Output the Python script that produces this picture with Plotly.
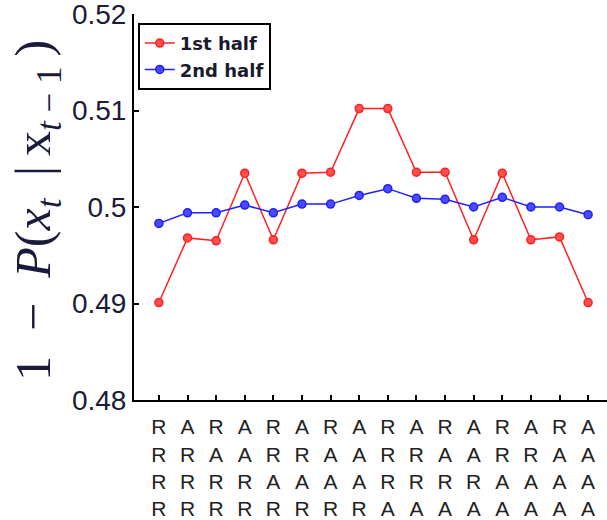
import plotly.graph_objects as go

categories = list(range(1, 17))
row1 = ["R", "A"] * 8
row2 = ["R", "R", "A", "A"] * 4
row3 = ["R"] * 4 + ["A"] * 4 + ["R"] * 4 + ["A"] * 4
row4 = ["R"] * 8 + ["A"] * 8
tick_labels = ["<br>".join(t) for t in zip(row1, row2, row3, row4)]

first_half = [0.4901, 0.4968, 0.4965, 0.5035, 0.4966, 0.5035, 0.5036, 0.5102,
              0.5102, 0.5036, 0.5036, 0.4966, 0.5035, 0.4966, 0.4969, 0.4901]
second_half = [0.4983, 0.4994, 0.4994, 0.5002, 0.4994, 0.5003, 0.5003, 0.5012,
               0.5019, 0.5009, 0.5008, 0.5000, 0.5010, 0.5000, 0.5000, 0.4992]

y_ticks = [0.48, 0.49, 0.50, 0.51, 0.52]
y_tick_text = ["0.48", "0.49", "0.5", "0.51", "0.52"]

fig = go.Figure()
fig.add_trace(go.Scatter(x=categories, y=first_half, mode="lines+markers", name="1st half",
                         line=dict(color="#ff2020", width=1.5),
                         marker=dict(symbol="circle", size=8, color="#ff5050",
                                     line=dict(color="#ff2020", width=1.5))))
fig.add_trace(go.Scatter(x=categories, y=second_half, mode="lines+markers", name="2nd half",
                         line=dict(color="#2020ff", width=1.5),
                         marker=dict(symbol="circle", size=8, color="#4a4aff",
                                     line=dict(color="#2020ff", width=1.5))))

title_txt = ("1\u2002\u2212\u2002<i>P</i>(<i>x<sub>t</sub></i>\u2009 |\u2009"
             "x<sub><i>t</i> \u2212 1</sub>\u2009)")

fig.update_layout(
    width=607, height=520,
    margin=dict(l=134, r=0, t=14, b=120, autoexpand=False),
    plot_bgcolor="white", paper_bgcolor="white",
    font=dict(family="Liberation Sans, Arial, sans-serif", color="#1a1a2e"),
    showlegend=True,
    legend=dict(x=0.008, y=0.977, xanchor="left", yanchor="top",
                bgcolor="white", bordercolor="black", borderwidth=2,
                font=dict(size=18, family="DejaVu Sans, Liberation Sans", color="#1a1a2e", weight="bold"),
                itemwidth=30, tracegroupgap=0),
    annotations=[dict(
        text=title_txt,
        xref="paper", yref="paper", x=-0.205, y=0.49, xanchor="center", yanchor="middle",
        textangle=-90, showarrow=False,
        font=dict(size=50, family="Liberation Serif, DejaVu Serif, serif", color="#1a1a3a"))],
)
fig.update_xaxes(range=[0.13, 16.66], tickvals=categories, ticktext=tick_labels,
                 automargin=False, ticklabelstandoff=7,
                 showline=True, linecolor="black", linewidth=2, mirror=False,
                 ticks="inside", ticklen=5, tickcolor="black", tickwidth=1.5,
                 showgrid=False, zeroline=False,
                 tickfont=dict(size=21, family="Liberation Sans, Arial", color="#222"))
fig.update_yaxes(range=[0.48, 0.52], tickvals=y_ticks, ticktext=y_tick_text,
                 automargin=False, ticklabeloverflow="allow",
                 showline=True, linecolor="black", linewidth=2,
                 ticks="inside", ticklen=5, tickcolor="black", tickwidth=1.5,
                 showgrid=False, zeroline=False,
                 tickfont=dict(size=28, family="Liberation Sans, Arial", color="#1a1a3a"))

fig.write_html("out.html", config={"displayModeBar": False},
               post_script="document.body.style.margin='0';")
